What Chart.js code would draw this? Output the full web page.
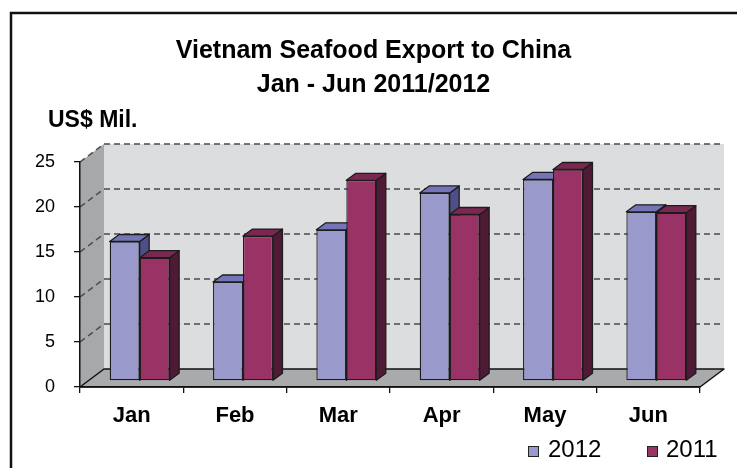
<!DOCTYPE html>
<html>
<head>
<meta charset="utf-8">
<script src="https://cdn.jsdelivr.net/npm/chart.js@4/dist/chart.umd.min.js"></script>
<style>
  html, body { margin: 0; padding: 0; background: #fff; }
  #wrap { width: 737px; height: 468px; position: relative; }
</style>
</head>
<body>
<div id="wrap"><canvas id="c" width="737" height="468"></canvas></div>
<script>
// Monthly seafood export values, US$ million
const months = ['Jan', 'Feb', 'Mar', 'Apr', 'May', 'Jun'];
const exports2012 = [15.5, 11.0, 16.8, 20.9, 22.4, 18.8];
const exports2011 = [13.7, 16.1, 22.3, 18.5, 23.5, 18.7];
const yTickValues = [0, 5, 10, 15, 20, 25];
const seriesNames = ['2012', '2011'];
const titleLines = ['Vietnam Seafood Export to China', 'Jan - Jun 2011/2012'];
const unitLabel = 'US$ Mil.';

// Face colours: front, top, side
const palette = [
  { front: '#9999CC', top: '#7474B8', side: '#4F4F88' },
  { front: '#993366', top: '#7A2852', side: '#4E1A36' }
];

const FONT = '"Liberation Sans", Arial, sans-serif';
// Depth of the box (back wall offset) and of each column
const WALL_DX = 24, WALL_DY = -18;
const BAR_SHIFT_X = 8, BAR_SHIFT_Y = -6;
const BAR_DX = 9.5, BAR_DY = -7;

function poly(ctx, pts, fill, stroke, lw) {
  ctx.beginPath();
  ctx.moveTo(pts[0][0], pts[0][1]);
  for (let i = 1; i < pts.length; i++) ctx.lineTo(pts[i][0], pts[i][1]);
  ctx.closePath();
  if (fill) { ctx.fillStyle = fill; ctx.fill(); }
  if (stroke) { ctx.strokeStyle = stroke; ctx.lineWidth = lw || 1; ctx.lineJoin = 'round'; ctx.stroke(); }
}

const scene3d = {
  id: 'scene3d',
  beforeDraw(chart) {
    const ctx = chart.ctx;
    const y = chart.scales.y;
    const { left, right } = chart.chartArea;
    const yTop = y.getPixelForValue(y.max);
    const yBot = y.getPixelForValue(0);

    ctx.save();
    ctx.fillStyle = '#fff';
    ctx.fillRect(0, 0, chart.width, chart.height);

    // outer frame
    ctx.strokeStyle = '#111';
    ctx.lineWidth = 2.5;
    ctx.beginPath();
    ctx.moveTo(11, chart.height + 2);
    ctx.lineTo(11, 13);
    ctx.lineTo(chart.width + 2, 13);
    ctx.stroke();

    // back wall
    ctx.fillStyle = '#DCDDDF';
    ctx.fillRect(left + WALL_DX, yTop + WALL_DY, right - left, yBot - yTop);
    // side wall
    poly(ctx, [[left, yTop], [left + WALL_DX, yTop + WALL_DY], [left + WALL_DX, yBot + WALL_DY], [left, yBot]], '#A7A8AA');

    // dashed gridlines across the side and back walls
    ctx.setLineDash([6, 4]);
    ctx.strokeStyle = '#4a4a4a';
    ctx.lineWidth = 1.5;
    yTickValues.forEach(v => {
      if (v === 0) return;
      const py = y.getPixelForValue(v);
      ctx.beginPath();
      ctx.moveTo(left, py);
      ctx.lineTo(left + WALL_DX, py + WALL_DY);
      ctx.lineTo(right + WALL_DX, py + WALL_DY);
      ctx.stroke();
    });
    ctx.setLineDash([]);

    // floor
    poly(ctx, [[left, yBot], [right, yBot], [right + WALL_DX, yBot + WALL_DY], [left + WALL_DX, yBot + WALL_DY]], '#A9AAAC', '#111', 1.5);
    ctx.restore();
  },
  beforeDatasetDraw() {
    // columns are drawn together below, left to right
    return false;
  },
  afterDatasetsDraw(chart) {
    const ctx = chart.ctx;
    ctx.save();
    ctx.translate(BAR_SHIFT_X, BAR_SHIFT_Y);
    const n = chart.data.labels.length;
    for (let i = 0; i < n; i++) {
      chart.data.datasets.forEach((ds, di) => {
        const el = chart.getDatasetMeta(di).data[i];
        const l = el.x - el.width / 2, r = el.x + el.width / 2;
        const t = el.y, b = el.base;
        const c = palette[di];
        poly(ctx, [[r, t], [r + BAR_DX, t + BAR_DY], [r + BAR_DX, b + BAR_DY], [r, b]], c.side, '#1c1c1c', 1.3);
        poly(ctx, [[l, t], [l + BAR_DX, t + BAR_DY], [r + BAR_DX, t + BAR_DY], [r, t]], c.top, '#1c1c1c', 1.3);
        el.draw(ctx);
      });
    }
    ctx.restore();
  },
  afterDraw(chart) {
    const ctx = chart.ctx;
    ctx.save();
    ctx.fillStyle = '#000';
    ctx.textAlign = 'center';
    ctx.textBaseline = 'alphabetic';
    ctx.font = 'bold 25px ' + FONT;
    ctx.fillText(titleLines[0], 373.5, 58);
    ctx.fillText(titleLines[1], 373.5, 92);
    ctx.textAlign = 'left';
    ctx.font = 'bold 23px ' + FONT;
    ctx.fillText(unitLabel, 48, 127);

    // legend
    const items = [{ x: 528, tx: 548 }, { x: 647, tx: 666 }];
    ctx.font = '24px ' + FONT;
    items.forEach((it, k) => {
      ctx.fillStyle = palette[k].front;
      ctx.fillRect(it.x, 446, 10, 10);
      ctx.strokeStyle = '#222';
      ctx.lineWidth = 1;
      ctx.strokeRect(it.x + 0.5, 446.5, 10, 10);
      ctx.fillStyle = '#000';
      ctx.fillText(seriesNames[k], it.tx, 457);
    });
    ctx.restore();
  }
};

new Chart(document.getElementById('c'), {
  type: 'bar',
  data: {
    labels: months,
    datasets: [
      { label: seriesNames[0], data: exports2012, backgroundColor: palette[0].front },
      { label: seriesNames[1], data: exports2011, backgroundColor: palette[1].front }
    ]
  },
  options: {
    responsive: false,
    devicePixelRatio: 1,
    animation: false,
    events: [],
    layout: { padding: { left: 24, right: 37, top: 162, bottom: 29 } },
    datasets: {
      bar: {
        categoryPercentage: 0.58,
        barPercentage: 1.0,
        borderColor: '#1c1c1c',
        borderWidth: 1.3,
        borderSkipped: false
      }
    },
    plugins: {
      legend: { display: false },
      title: { display: false },
      tooltip: { enabled: false }
    },
    scales: {
      x: {
        grid: { display: true, drawOnChartArea: false, drawTicks: true, tickLength: 6, color: '#111', lineWidth: 1.3, offset: true },
        border: { display: true, color: '#111', width: 1.5 },
        ticks: { color: '#000', font: { family: FONT, size: 22, weight: 'bold' }, padding: 10, maxRotation: 0 },
        afterFit(scale) { scale.height = 52; }
      },
      y: {
        min: 0,
        max: 25,
        afterBuildTicks(scale) { scale.ticks = yTickValues.map(v => ({ value: v })); },
        grid: { display: true, drawOnChartArea: false, drawTicks: true, tickLength: 6, color: '#111', lineWidth: 1.3 },
        border: { display: true, color: '#111', width: 1.5 },
        ticks: { color: '#000', font: { family: FONT, size: 18 }, padding: 19 },
        afterFit(scale) { scale.width = 56; }
      }
    }
  },
  plugins: [scene3d]
});
</script>
</body>
</html>
